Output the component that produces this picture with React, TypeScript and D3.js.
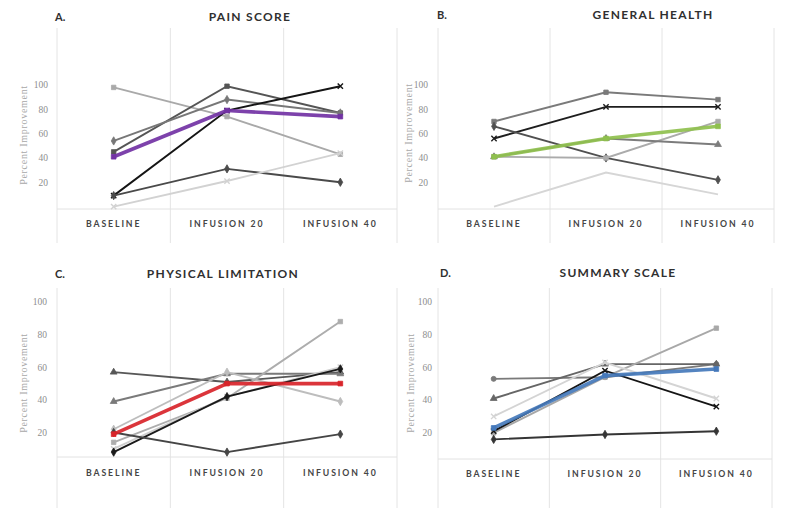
import React from "react";
import * as d3 from "d3";

const categories = ["BASELINE", "INFUSION 20", "INFUSION 40"];
const yTicks = [20, 40, 60, 80, 100];
const yAxisTitle = "Percent  Improvement";

// A. pain score, one row per patient, then the group mean
const painPatients = [
    [98, 74, 43],
    [45, 99, 77],
    [54, 88, 77],
    [9, 79, 99],
    [9, 31, 20],
    [0, 21, 44],
];
const painMean = [41, 79, 74];

// B. general health
const healthPatients = [
    [70, 94, 88],
    [56, 82, 82],
    [66, 40, 22],
    [41, 40, 70],
    [41, 56, 51],
    [0, 28, 10],
];
const healthMean = [41, 56, 66];

// C. physical limitation
const physicalPatients = [
    [57, 51, 57],
    [39, 56, 56],
    [22, 57, 39],
    [14, 41, 88],
    [10, 42, 60],
    [8, 42, 59],
    [20, 8, 19],
];
const physicalMean = [19, 50, 50];

// D. summary scale
const summaryPatients = [
    [53, 54, 62],
    [41, 62, 62],
    [20, 54, 84],
    [30, 63, 41],
    [21, 58, 36],
    [16, 19, 21],
];
const summaryMean = [23, 55, 59];

// styles (kept apart from the numbers)
type Shape = "square" | "diamond" | "triangle" | "circle" | "x" | "none";

const painStyle = {
    colors: ["#a9a9a9", "#555555", "#777777", "#151515", "#4a4a4a", "#d2d2d2"],
    shapes: ["square", "square", "diamond", "x", "diamond", "x"] as Shape[],
    accent: "#7232a4",
};
const healthStyle = {
    colors: ["#7a7a7a", "#1e1e1e", "#505050", "#ababab", "#7c7c7c", "#d6d6d6"],
    shapes: ["square", "x", "diamond", "square", "triangle", "none"] as Shape[],
    accent: "#8fc04e",
};
const physicalStyle = {
    colors: ["#575757", "#7a7a7a", "#bdbdbd", "#adadad", "#cfcfcf", "#1a1a1a", "#454545"],
    shapes: ["triangle", "triangle", "diamond", "square", "x", "diamond", "diamond"] as Shape[],
    accent: "#d8242a",
};
const summaryStyle = {
    colors: ["#7a7a7a", "#666666", "#a8a8a8", "#d4d4d4", "#151515", "#353535"],
    shapes: ["circle", "triangle", "square", "x", "x", "diamond"] as Shape[],
    accent: "#4579bb",
};

interface Frame {
    left: number;
    right: number;
    top: number;
    bottom: number;
    axisY: number;
    yTop: number;
    yDomain: [number, number];
    tickX: number;
    titleAxisX: number;
    titleAxisY: number;
    catY: number;
    letterX: number;
    headX: number;
    headY: number;
}

const symbolTypes: Record<string, d3.SymbolType> = {
    square: d3.symbolSquare,
    diamond: d3.symbolDiamond,
    triangle: d3.symbolTriangle,
    circle: d3.symbolCircle,
    x: d3.symbolX,
};

const Marker = ({ x, y, shape, color, size }: { x: number; y: number; shape: Shape; color: string; size: number }) => {
    if (shape === "none") return null;
    const d = d3.symbol().type(symbolTypes[shape]).size(size)() as string;
    const stroked = shape === "x";
    return (
        <path
            d={d}
            transform={`translate(${x},${y})`}
            fill={stroked ? "none" : color}
            stroke={color}
            strokeWidth={stroked ? 1.4 : 0.8}
        />
    );
};

const Panel = (props: {
    frame: Frame;
    letter: string;
    title: string;
    patients: number[][];
    mean: number[];
    style: { colors: string[]; shapes: Shape[]; accent: string };
}) => {
    const { frame, letter, title, patients, mean, style } = props;

    const x = d3.scaleBand<string>().domain(categories).range([frame.left, frame.right]);
    const cx = (i: number) => (x(categories[i]) as number) + x.bandwidth() / 2;
    const y = d3.scaleLinear().domain(frame.yDomain).range([frame.axisY, frame.yTop]);

    const line = d3
        .line<number>()
        .x((_d, i) => cx(i))
        .y((d) => y(d));

    const gridXs = [...categories.map((c) => x(c) as number), frame.right];

    return (
        <g>
            {gridXs.map((gx, i) => (
                <line key={i} x1={gx} x2={gx} y1={frame.top} y2={frame.bottom} stroke="#e4e4e4" strokeWidth={1} />
            ))}
            <line x1={frame.left} x2={frame.right} y1={frame.axisY} y2={frame.axisY} stroke="#e2e2e2" strokeWidth={1} />

            {yTicks.map((t) => (
                <text
                    key={t}
                    x={frame.tickX}
                    y={y(t)}
                    dy="0.35em"
                    textAnchor="end"
                    fontFamily="'Liberation Serif', serif"
                    fontSize={9.5}
                    fill="#8e8e8e"
                >
                    {t}
                </text>
            ))}
            <text
                transform={`translate(${frame.titleAxisX},${frame.titleAxisY}) rotate(-90)`}
                textAnchor="middle"
                dy="0.35em"
                fontFamily="'Liberation Serif', serif"
                fontSize={10}
                fill="#a8a8a8"
                letterSpacing={0.7}
            >
                {yAxisTitle}
            </text>

            {categories.map((c, i) => (
                <text
                    key={c}
                    x={cx(i)}
                    y={frame.catY}
                    dy="0.35em"
                    textAnchor="middle"
                    fontFamily="Lato, sans-serif"
                    fontWeight="bold"
                    fontSize={8.7}
                    letterSpacing={1.9}
                    fill="#454545"
                >
                    {c}
                </text>
            ))}

            <text x={frame.letterX} y={frame.headY} dy="0.35em" fontFamily="Lato, sans-serif" fontWeight="bold" fontSize={11} fill="#303030">
                {letter}
            </text>
            <text
                x={frame.headX}
                y={frame.headY}
                dy="0.35em"
                textAnchor="middle"
                fontFamily="Lato, sans-serif"
                fontWeight="bold"
                fontSize={12}
                letterSpacing={1.3}
                fill="#303030"
            >
                {title}
            </text>

            {patients.map((vals, k) => (
                <g key={k}>
                    <path d={line(vals) as string} fill="none" stroke={style.colors[k]} strokeWidth={1.9} />
                    {vals.map((v, i) => (
                        <Marker key={i} x={cx(i)} y={y(v)} shape={style.shapes[k]} color={style.colors[k]} size={20} />
                    ))}
                </g>
            ))}
            <path d={line(mean) as string} fill="none" stroke={style.accent} strokeWidth={3.6} strokeLinejoin="round" opacity={0.92} />
            {mean.map((v, i) => (
                <Marker key={i} x={cx(i)} y={y(v)} shape="square" color={style.accent} size={22} />
            ))}
        </g>
    );
};

const frameA: Frame = {
    left: 57, right: 397, top: 28, bottom: 243, axisY: 209, yTop: 85, yDomain: [-2, 100],
    tickX: 48, titleAxisX: 23, titleAxisY: 135, catY: 224, letterX: 55, headX: 250, headY: 17,
};
const frameB: Frame = {
    left: 438, right: 774, top: 28, bottom: 243, axisY: 209, yTop: 85, yDomain: [-2, 100],
    tickX: 428, titleAxisX: 408, titleAxisY: 133, catY: 224, letterX: 437, headX: 653, headY: 15,
};
const frameC: Frame = {
    left: 57, right: 397, top: 288, bottom: 508, axisY: 457, yTop: 302, yDomain: [5, 100],
    tickX: 47, titleAxisX: 23, titleAxisY: 383, catY: 473, letterX: 55, headX: 223, headY: 274,
};
const frameD: Frame = {
    left: 438, right: 772, top: 288, bottom: 508, axisY: 459, yTop: 302, yDomain: [4, 100],
    tickX: 432, titleAxisX: 410, titleAxisY: 383, catY: 474, letterX: 440, headX: 618, headY: 273,
};

export default function App() {
    return (
        <svg
            width={800}
            height={522}
            viewBox="0 0 800 522"
            style={{ position: "absolute", left: 0, top: 0, background: "#ffffff" }}
        >
            <rect width={800} height={522} fill="#ffffff" />
            <Panel frame={frameA} letter="A." title="PAIN SCORE" patients={painPatients} mean={painMean} style={painStyle} />
            <Panel frame={frameB} letter="B." title="GENERAL HEALTH" patients={healthPatients} mean={healthMean} style={healthStyle} />
            <Panel frame={frameC} letter="C." title="PHYSICAL LIMITATION" patients={physicalPatients} mean={physicalMean} style={physicalStyle} />
            <Panel frame={frameD} letter="D." title="SUMMARY SCALE" patients={summaryPatients} mean={summaryMean} style={summaryStyle} />
        </svg>
    );
}
